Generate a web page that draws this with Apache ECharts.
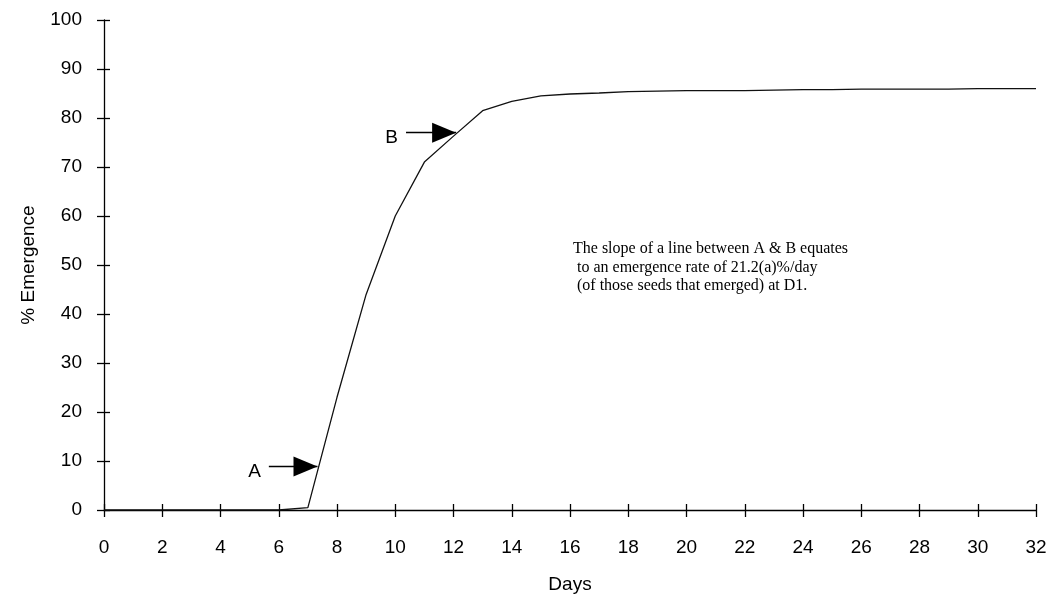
<!DOCTYPE html>
<html>
<head>
<meta charset="utf-8">
<script src="https://cdn.jsdelivr.net/npm/echarts@6/dist/echarts.min.js"></script>
<style>
  html, body { margin: 0; padding: 0; background: #fff; }
  #chart { width: 1055px; height: 599px; }
</style>
</head>
<body>
<div id="chart"></div>
<script>
// Cumulative seedling emergence (%) by day after sowing
const days = [0, 1, 2, 3, 4, 5, 6, 7, 8, 9, 10, 11, 12, 13, 14, 15, 16,
              17, 18, 19, 20, 21, 22, 23, 24, 25, 26, 27, 28, 29, 30, 31, 32];
const emergence = [0, 0, 0, 0, 0, 0, 0, 0.5, 23, 44, 60, 71, 76.3, 81.5, 83.4, 84.5, 84.9,
                   85.1, 85.4, 85.5, 85.6, 85.6, 85.6, 85.7, 85.8, 85.8, 85.9, 85.9, 85.9, 85.9, 86, 86, 86];

// Arrow markers: [label, start day, tip day, % level]
const arrowA = ['A', 5.66, 7.33, 8.9];
const arrowB = ['B', 10.37, 12.09, 77.0];

const xTicks = { min: 0, max: 32, step: 2 };
const yTicks = { min: 0, max: 100, step: 10 };

const note = [
  'The slope of a line between A & B equates',
  ' to an emergence rate of 21.2(a)%/day',
  ' (of those seeds that emerged) at D1.'
];

const sans = '"Liberation Sans", Arial, sans-serif';
const serif = '"Liberation Serif", "Times New Roman", serif';

// Horizontal arrow ending in a solid triangle whose tip sits on the end point
function arrowItem(a) {
  return [
    { coord: [a[1], a[3]], symbol: 'none', symbolSize: 1, label: { formatter: a[0] } },
    { coord: [a[2], a[3]], symbol: 'triangle', symbolSize: [20, 24], symbolOffset: [0, 12] }
  ];
}

const chart = echarts.init(document.getElementById('chart'), null, { renderer: 'canvas' });

const axisLineStyle = { color: '#000', width: 1.3 };

chart.setOption({
  backgroundColor: '#fff',
  animation: false,
  grid: { left: 104, right: 19, top: 20, bottom: 88, containLabel: false },
  xAxis: [
    {
      type: 'value', min: xTicks.min, max: xTicks.max, interval: xTicks.step,
      name: 'Days', nameLocation: 'middle', nameGap: 65,
      nameTextStyle: { fontFamily: sans, fontSize: 19, color: '#000' },
      axisLine: { show: true, onZero: false, lineStyle: axisLineStyle },
      axisTick: { show: true, inside: false, length: 7, lineStyle: axisLineStyle },
      axisLabel: { fontFamily: sans, fontSize: 19, color: '#000', margin: 28 },
      splitLine: { show: false }
    },
    {
      type: 'value', min: xTicks.min, max: xTicks.max, interval: xTicks.step,
      position: 'bottom',
      axisLine: { show: false },
      axisTick: { show: true, inside: true, length: 6, lineStyle: axisLineStyle },
      axisLabel: { show: false },
      splitLine: { show: false }
    }
  ],
  yAxis: [
    {
      type: 'value', min: yTicks.min, max: yTicks.max, interval: yTicks.step,
      name: '% Emergence', nameLocation: 'middle', nameGap: 66, nameRotate: 90,
      nameTextStyle: { fontFamily: sans, fontSize: 19, color: '#000' },
      axisLine: { show: true, onZero: false, lineStyle: axisLineStyle },
      axisTick: { show: true, inside: false, length: 7, lineStyle: axisLineStyle },
      axisLabel: { fontFamily: sans, fontSize: 19, color: '#000', margin: 22 },
      splitLine: { show: false }
    },
    {
      type: 'value', min: yTicks.min, max: yTicks.max, interval: yTicks.step,
      position: 'left',
      axisLine: { show: false },
      axisTick: { show: true, inside: true, length: 6, lineStyle: axisLineStyle },
      axisLabel: { show: false },
      splitLine: { show: false }
    }
  ],
  series: [
    {
      type: 'line',
      xAxisIndex: 0,
      yAxisIndex: 0,
      data: days.map((d, i) => [d, emergence[i]]),
      showSymbol: false,
      lineStyle: { color: '#111', width: 1.3 },
      markLine: {
        silent: true,
        symbol: ['none', 'triangle'],
        itemStyle: { color: '#000' },
        lineStyle: { color: '#000', width: 1.3, type: 'solid' },
        label: {
          show: true, position: 'start', distance: 8,
          fontFamily: sans, fontSize: 19, color: '#000',
          offset: [0, 5]
        },
        data: [arrowItem(arrowA), arrowItem(arrowB)]
      }
    }
  ],
  graphic: [
    {
      type: 'text',
      left: 573,
      top: 240,
      style: {
        text: note.join('\n'),
        font: '16px ' + serif,
        lineHeight: 18.5,
        fill: '#000'
      }
    }
  ]
});
</script>
</body>
</html>
